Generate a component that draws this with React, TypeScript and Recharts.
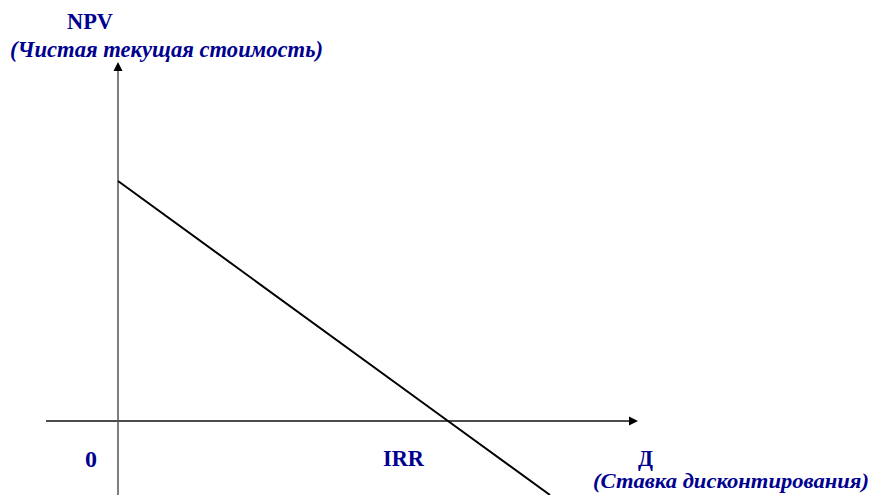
import React from 'react';
import { LineChart, Line, XAxis, YAxis, ReferenceLine, ReferenceDot, Customized } from 'recharts';

// discount rate (units ~ %), NPV (arbitrary units)
const rates = [0, 33, 43.2];
const npvValues = [24, 0, -7.4];
const xDomain: [number, number] = [-11.8, 75.3];
const yDomain: [number, number] = [-7.4, 42.1];
const xAxisExtent = [-7.2, 52];
const yAxisExtent = [-7.4, 35.9];

const labels = {
  npv: 'NPV',
  npvSub: '(Чистая текущая стоимость)',
  zero: '0',
  irr: 'IRR',
  rate: 'Д',
  rateSub: '(Ставка дисконтирования)',
};

const data = rates.map((r, i) => ({ rate: r, npv: npvValues[i] }));

const NAVY = '#000090';
const FONT = '"Liberation Serif", "Times New Roman", serif';

const ArrowRight = (props: any) => {
  const { cx, cy } = props;
  return <path d={`M${cx},${cy} L${cx - 9},${cy - 4.5} L${cx - 9},${cy + 4.5} Z`} fill="#000" />;
};
const ArrowUp = (props: any) => {
  const { cx, cy } = props;
  return <path d={`M${cx},${cy} L${cx - 4.5},${cy + 9} L${cx + 4.5},${cy + 9} Z`} fill="#000" />;
};

const Texts = () => (
  <g fontFamily={FONT} fill={NAVY} fontWeight="bold">
    <text x={67} y={29} fontSize={24} textLength={46} lengthAdjust="spacingAndGlyphs">{labels.npv}</text>
    <text x={10} y={57} fontSize={23} fontStyle="italic" textLength={313} lengthAdjust="spacingAndGlyphs">{labels.npvSub}</text>
    <text x={91} y={467} fontSize={24} textAnchor="middle">{labels.zero}</text>
    <text x={383} y={466} fontSize={24} textLength={41} lengthAdjust="spacingAndGlyphs">{labels.irr}</text>
    <text x={638} y={466} fontSize={23} textLength={15} lengthAdjust="spacingAndGlyphs">{labels.rate}</text>
    <text x={593} y={488} fontSize={22} fontStyle="italic" textLength={276} lengthAdjust="spacingAndGlyphs">{labels.rateSub}</text>
  </g>
);

export default function App() {
  return (
    <div style={{ position: 'absolute', left: 0, top: 0, width: 871, height: 495, background: '#fff' }}>
      <LineChart width={871} height={495} data={data} margin={{ top: 0, right: 0, bottom: 0, left: 0 }}>
        <XAxis type="number" dataKey="rate" domain={xDomain} hide allowDataOverflow />
        <YAxis type="number" domain={yDomain} hide allowDataOverflow />
        <ReferenceLine
          segment={[{ x: xAxisExtent[0], y: 0 }, { x: xAxisExtent[1] - 0.9, y: 0 }]}
          stroke="#111"
          strokeWidth={1.5}
          ifOverflow="visible"
        />
        <ReferenceLine
          segment={[{ x: 0, y: yAxisExtent[0] }, { x: 0, y: yAxisExtent[1] - 0.9 }]}
          stroke="#555"
          strokeWidth={1.5}
          ifOverflow="visible"
        />
        <ReferenceDot x={xAxisExtent[1]} y={0} r={0} shape={ArrowRight} ifOverflow="visible" />
        <ReferenceDot x={0} y={yAxisExtent[1]} r={0} shape={ArrowUp} ifOverflow="visible" />
        <Line
          type="linear"
          dataKey="npv"
          stroke="#000"
          strokeWidth={2}
          dot={false}
          activeDot={false}
          isAnimationActive={false}
        />
        <Customized component={Texts} />
      </LineChart>
    </div>
  );
}
